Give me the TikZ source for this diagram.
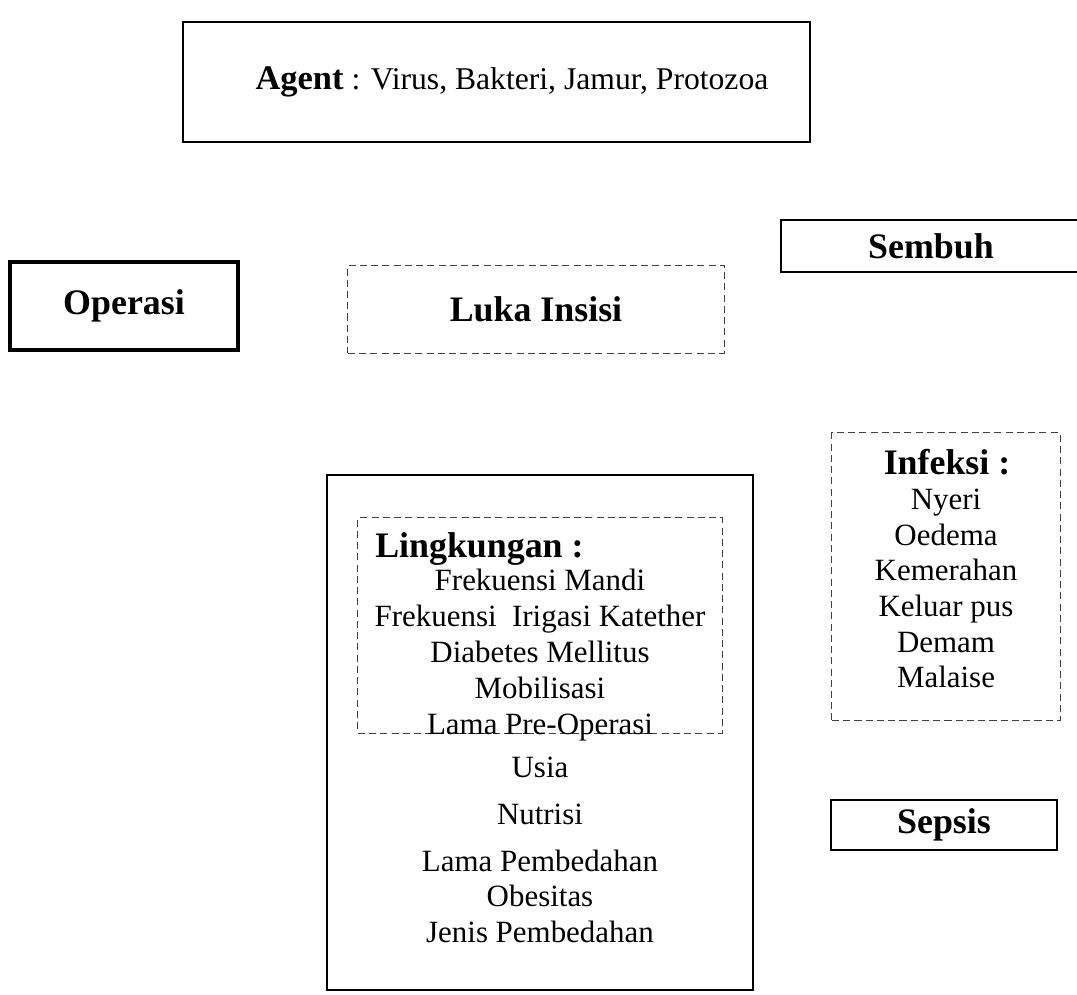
\documentclass[tikz,border=0pt]{standalone}
\usepackage{fontspec}
\setmainfont{Liberation Serif}
\usepackage{tikz}
\usetikzlibrary{positioning}

\begin{document}
\begin{tikzpicture}[
  x=0.025cm, y=-0.025cm,
  box/.style={inner sep=0pt, align=center},
  solidbox/.style={box, draw, line width=2pt},
  dashbox/.style={box, draw=black!75, line width=0.7pt,
    dash pattern=on 5pt off 3pt},
  hdr/.style={font=\fontsize{25.5}{30}\selectfont\bfseries},
  item/.style={inner sep=0pt, align=center,
    font=\fontsize{22}{25.6}\selectfont}
]
\useasboundingbox (0,0) rectangle (1077,994);

% top row
\node[solidbox, minimum width=15.675cm, minimum height=3cm] (agent) at (496.5,82)
  {\hspace*{22pt}{\fontsize{24.5}{28}\selectfont\bfseries Agent}%
   {\fontsize{22.5}{26}\selectfont\ : Virus, Bakteri, Jamur, Protozoa}};

\node[solidbox, line width=2.4pt, minimum width=5.7cm, minimum height=2.2cm,
  hdr] (operasi) at (124,306) {\raisebox{-3pt}{Operasi}};
\node[dashbox, minimum width=9.4cm, minimum height=2.2cm,
  hdr] (luka) at (536,309) {Luka Insisi};
\node[solidbox, minimum width=7.5cm, minimum height=1.3cm,
  hdr] (sembuh) at (931,246) {Sembuh};

% faktor risiko
\node[solidbox, line width=1.5pt, minimum width=10.65cm,
  minimum height=12.875cm] (faktor) at (540,732.5) {};
\node[dashbox, minimum width=9.1cm, minimum height=5.375cm] (lingk) at (540,625.5) {};
\node[hdr, inner sep=0pt, anchor=west] (lingkhdr) at (375,549) {Lingkungan :};
\node[item, anchor=north] (lingklist) at (540,569)
  {Frekuensi Mandi\\Frekuensi\ \ Irigasi Katether\\Diabetes Mellitus\\
   Mobilisasi\\Lama Pre-Operasi};
\node[item, anchor=north, font=\fontsize{22}{25}\selectfont] (hostlist) at (540,757)
  {Usia\\[8.4pt]Nutrisi\\[8.4pt]Lama Pembedahan\\Obesitas\\Jenis Pembedahan};

% infeksi dan sepsis
\node[dashbox, minimum width=5.7cm, minimum height=7.175cm] (infeksi) at (946,576.5) {};
\node[hdr, inner sep=0pt] (infhdr) at (947,462) {Infeksi :};
\node[item, anchor=north, font=\fontsize{22}{25.3}\selectfont] (inflist) at (946,489)
  {Nyeri\\Oedema\\Kemerahan\\Keluar pus\\Demam\\Malaise};
\node[solidbox, minimum width=5.65cm, minimum height=1.25cm,
  hdr] (sepsis) at (944,825) {Sepsis};
\end{tikzpicture}
\end{document}
